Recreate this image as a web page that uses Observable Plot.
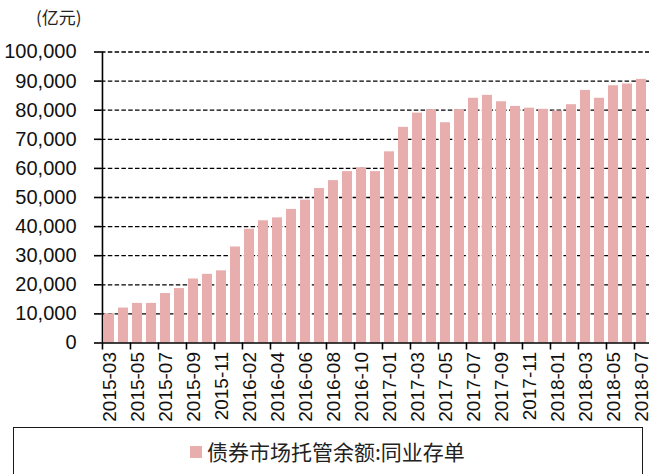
<!DOCTYPE html>
<html>
<head>
<meta charset="utf-8">
<script src="https://cdn.jsdelivr.net/npm/d3@7"></script>
<script src="https://cdn.jsdelivr.net/npm/@observablehq/plot@0.6"></script>
<style>
  html, body { margin: 0; padding: 0; background: #fff; }
  body { position: relative; width: 662px; height: 474px; overflow: hidden; }
  #chart { position: absolute; left: 0; top: 0; }
  #unit { position: absolute; left: 36px; top: 4px; font: 17px "Noto Sans CJK SC", sans-serif; color: #222; }
  #legend { position: absolute; left: 13px; top: 427px; width: 630px; height: 60px;
            border: 1.5px solid #1a1a1a; box-sizing: border-box; }
  #legend .sw { position: absolute; left: 176px; top: 18px; width: 12px; height: 12px; }
  #legend .lb { position: absolute; left: 193px; top: 9px; font: 21px "Noto Sans CJK SC", sans-serif;
                color: #222; line-height: 28px; white-space: nowrap; }
</style>
</head>
<body>
<div id="unit">(亿元)</div>
<div id="chart"></div>
<div id="legend"><div class="sw"></div><div class="lb"></div></div>
<script>
// 债券市场托管余额:同业存单, monthly, 亿元
const seriesName = "债券市场托管余额:同业存单";
const months = [
  "2015-03","2015-04","2015-05","2015-06","2015-07","2015-08","2015-09","2015-10","2015-11","2015-12",
  "2016-02","2016-03","2016-04","2016-05","2016-06","2016-07","2016-08","2016-09","2016-10","2016-12",
  "2017-01","2017-02","2017-03","2017-04","2017-05","2017-06","2017-07","2017-08","2017-09","2017-10",
  "2017-11","2017-12","2018-01","2018-02","2018-03","2018-04","2018-05","2018-06","2018-07"
];
const balances = [
  10000, 12000, 13600, 13600, 17000, 18700, 22000, 23600, 24800, 33000,
  39100, 42000, 43000, 45900, 49100, 53100, 55800, 58900, 60200, 58900,
  65700, 74100, 79000, 80200, 75700, 80200, 84100, 85100, 82900, 81300,
  80700, 80300, 79700, 81900, 86800, 84100, 88400, 89000, 90600
];
const yTicks = [0, 10000, 20000, 30000, 40000, 50000, 60000, 70000, 80000, 90000, 100000];
const xLabels = months.filter((d, i) => i % 2 === 0);

const barColor = "#e8aeae";
const W = 662, H = 425, mL = 101, mR = 13, mT = 51.5, mB = 82.5;
const step = (W - mL - mR) / months.length;

const rows = months.map((m, i) => ({month: m, value: balances[i]}));
const numFont = '"Liberation Sans Narrow", "Arial Narrow", "Liberation Sans", Arial, sans-serif';

const chart = Plot.plot({
  width: W,
  height: H,
  marginLeft: mL,
  marginRight: mR,
  marginTop: mT,
  marginBottom: mB,
  style: {fontFamily: numFont, fontSize: "20px", color: "#111", background: "transparent", overflow: "visible"},
  x: {type: "band", domain: months, paddingInner: 0.32, paddingOuter: 0.16, axis: null, label: null},
  y: {domain: [0, 100000], axis: null, label: null},
  marks: [
    // dashed gridlines
    Plot.ruleY(yTicks.filter(d => d > 0), {stroke: "#000", strokeWidth: 1.3, strokeDasharray: "4.5,2.3"}),
    Plot.barY(rows, {x: "month", y: "value", fill: barColor}),
    // baseline and vertical axis line
    Plot.ruleY([0], {stroke: "#000", strokeWidth: 1.6}),
    Plot.ruleX([months[0]], {y1: 0, y2: 100000, dx: -step / 2, stroke: "#000", strokeWidth: 1.6}),
    // y ticks and labels
    Plot.axisY({ticks: yTicks, tickSize: 7, tickPadding: 18, tickFormat: d3.format(","), label: null,
                stroke: "#000", strokeWidth: 1.6, fontSize: 20, fill: "#111"}),
    // x tick marks on the boundaries of every other month
    Plot.ruleX(xLabels, {y1: 0, y2: 0, insetBottom: -7, dx: -step / 2, stroke: "#000", strokeWidth: 1.6}),
    // rotated month labels
    Plot.axisX({ticks: xLabels, tickSize: 0, tickPadding: 9, tickRotate: -90, label: null, fontSize: 19, fill: "#111"})
  ]
});
document.getElementById("chart").appendChild(chart);

document.querySelector("#legend .sw").style.background = barColor;
document.querySelector("#legend .lb").textContent = seriesName;
</script>
</body>
</html>
